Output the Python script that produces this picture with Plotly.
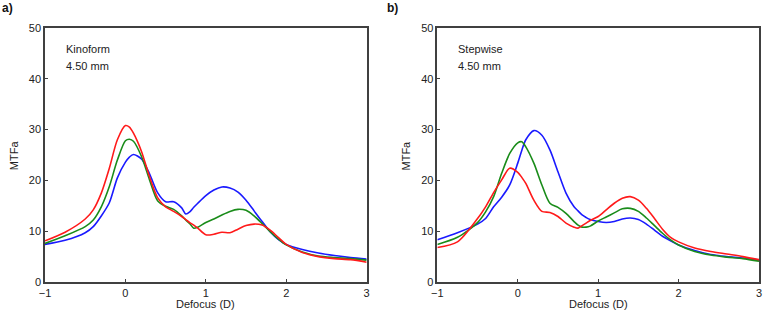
import plotly.graph_objects as go
from plotly.subplots import make_subplots

defocus = [-1, -0.75, -0.5, -0.4, -0.3, -0.2, -0.1, 0, 0.05, 0.1, 0.2, 0.3, 0.4, 0.5, 0.6, 0.7,
           0.75, 0.8, 0.85, 0.9, 1.0, 1.1, 1.2, 1.3, 1.4, 1.5, 1.6, 1.7, 1.8, 1.9, 2.0, 2.2,
           2.4, 2.6, 2.8, 3.0]

kino_red = [8.1, 9.8, 12.4, 14.2, 17.5, 22.4, 28.0, 30.8, 30.5, 29.3, 25.7, 20.7, 16.6, 14.8,
            13.9, 12.9, 12.3, 11.7, 11.2, 10.6, 9.3, 9.4, 9.8, 9.7, 10.4, 11.1, 11.4, 11.2,
            10.2, 8.8, 7.4, 5.8, 5.0, 4.6, 4.4, 3.9]
kino_green = [7.6, 9.1, 10.9, 12.2, 14.8, 18.8, 24.0, 27.8, 28.1, 27.7, 24.7, 20.1, 16.0, 14.9,
              14.3, 13.0, 12.2, 11.5, 10.6, 10.8, 11.7, 12.4, 13.2, 13.9, 14.3, 14.1, 13.0,
              11.5, 9.9, 8.5, 7.3, 5.9, 5.1, 4.8, 4.6, 4.3]
kino_blue = [7.4, 8.2, 9.7, 10.9, 13.0, 15.6, 20.5, 23.6, 24.6, 25.1, 24.2, 21.3, 17.6, 15.8,
             15.8, 14.6, 13.4, 13.8, 14.7, 15.5, 17.0, 18.1, 18.7, 18.5, 17.7, 16.1, 14.0,
             11.9, 9.9, 8.4, 7.4, 6.4, 5.7, 5.2, 4.8, 4.5]

step_red = [6.8, 7.9, 12.5, 14.8, 17.6, 20.1, 22.4, 21.6, 20.6, 19.4, 16.1, 13.9, 13.7, 12.9,
            11.6, 10.8, 10.6, 11.1, 11.6, 12.1, 12.9, 14.2, 15.5, 16.5, 16.8, 16.1, 14.5,
            12.5, 10.4, 8.8, 7.9, 6.7, 6.0, 5.5, 5.0, 4.4]
step_green = [7.4, 8.8, 11.7, 13.8, 16.8, 21.4, 25.3, 27.4, 27.6, 26.6, 23.4, 19.1, 15.5, 14.7,
              13.5, 11.9, 11.2, 10.8, 10.8, 11.0, 12.0, 12.8, 13.6, 14.4, 14.5, 13.9, 12.6,
              11.1, 9.6, 8.3, 7.3, 6.0, 5.3, 4.9, 4.6, 4.1]
step_blue = [8.3, 9.7, 11.4, 12.5, 14.8, 16.7, 19.1, 23.4, 25.9, 28.0, 29.8, 28.9, 26.0, 21.7,
             17.5, 14.8, 14.0, 13.2, 12.7, 12.3, 11.9, 11.7, 11.9, 12.4, 12.6, 12.3, 11.4,
             10.2, 9.0, 8.1, 7.3, 6.2, 5.4, 5.0, 4.7, 4.3]

x_ticks = [-1, 0, 1, 2, 3]
y_ticks = [0, 10, 20, 30, 40, 50]
panel_labels = ["a)", "b)"]
panel_names = ["Kinoform", "Stepwise"]
size_label = "4.50 mm"

RED, GREEN, BLUE = "#ff1a1a", "#1a8c1a", "#1a1aff"
FONT = "Liberation Sans, Arial, sans-serif"

fig = make_subplots(rows=1, cols=2, horizontal_spacing=0.099)

panels = [(kino_red, kino_green, kino_blue), (step_red, step_green, step_blue)]
for col, (r, g, b) in enumerate(panels, start=1):
    for ys, c in ((b, BLUE), (g, GREEN), (r, RED)):
        fig.add_trace(go.Scatter(x=defocus, y=ys, mode="lines",
                                 line=dict(color=c, width=1.6, shape="spline", smoothing=0.8),
                                 showlegend=False, hoverinfo="skip"), row=1, col=col)

axis_common = dict(showline=True, mirror=True, linecolor="#404040", linewidth=1.5,
                   ticks="inside", ticklen=3, tickcolor="#404040", showgrid=False,
                   zeroline=False, tickfont=dict(family=FONT, size=11, color="#222"))
for col in (1, 2):
    fig.update_xaxes(range=[-1, 3], tickvals=x_ticks, **axis_common, row=1, col=col)
    fig.update_yaxes(range=[0, 50], tickvals=y_ticks, **axis_common, row=1, col=col)

fig.update_layout(
    width=765, height=314,
    margin=dict(l=45, r=3, t=28, b=32),
    plot_bgcolor="white", paper_bgcolor="white",
    font=dict(family=FONT, size=11, color="#222"),
)

W = 717.0
H = 254.0
def px(xp):
    return (xp - 45) / W
def py(yp):
    return (282 - yp) / H

anns = []
for i, (lab, name) in enumerate(zip(panel_labels, panel_names)):
    xd = "x domain" if i == 0 else "x2 domain"
    yd = "y domain" if i == 0 else "y2 domain"
    anns.append(dict(text="<b>%s</b>" % lab, xref="paper", yref="paper",
                     x=px(0 if i == 0 else 386), y=py(8), xanchor="left", yanchor="middle",
                     showarrow=False, font=dict(size=12, color="#111")))
    anns.append(dict(text=name, xref=xd, yref=yd, x=0.059, y=0.917,
                     xanchor="left", yanchor="middle", showarrow=False))
    anns.append(dict(text=size_label, xref=xd, yref=yd, x=0.059, y=0.85,
                     xanchor="left", yanchor="middle", showarrow=False))
    anns.append(dict(text="MTFa", xref="paper", yref="paper",
                     x=px(14 if i == 0 else 408), y=py(155), textangle=-90,
                     xanchor="center", yanchor="middle", showarrow=False))
    anns.append(dict(text="Defocus (D)", xref=xd, yref="paper", x=0.5, y=py(304),
                     xanchor="center", yanchor="middle", showarrow=False))
fig.update_layout(annotations=anns)

fig.write_html("out.html", config={"displayModeBar": False},
               post_script="document.body.style.margin='0';")
